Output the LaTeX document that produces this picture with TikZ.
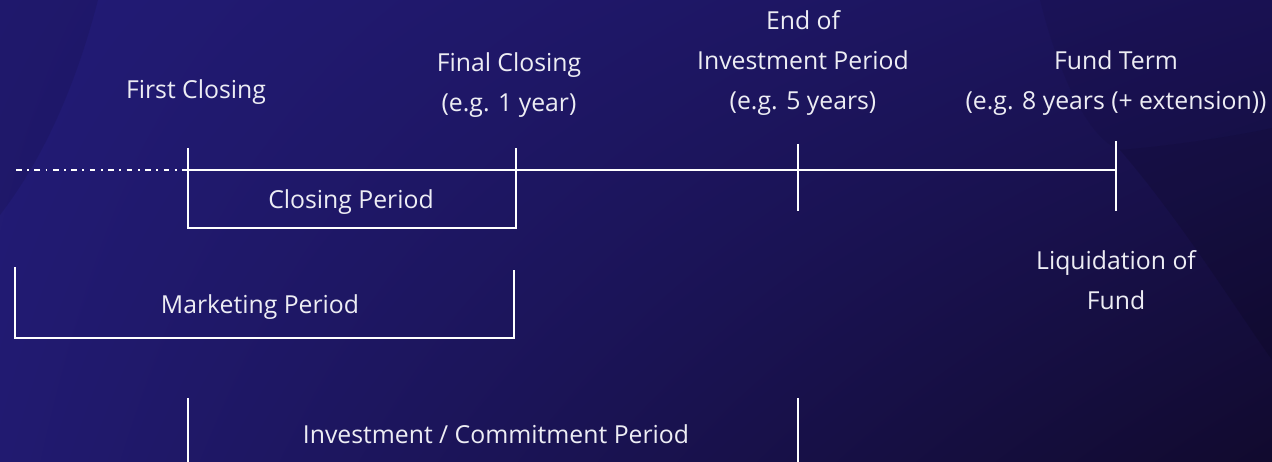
\documentclass[tikz,border=0pt]{standalone}
\usepackage{fontspec}
\setmainfont{Open Sans}
\usetikzlibrary{positioning,shadings}
\definecolor{bgtl}{HTML}{221B76}
\definecolor{bgtr}{HTML}{1B1358}
\definecolor{bgbl}{HTML}{211A70}
\definecolor{bgbr}{HTML}{110A2E}
\tikzset{%
	lbl/.style={text=white!92!bgtl, font=\fontsize{14.1}{22.7}\selectfont, align=center, inner sep=0pt},
	tl/.style={draw=white, line width=1.1pt},
	pre/.style={draw=white, line width=1pt, dash pattern=on 3.2pt off 3.1pt on 1.1pt off 3.1pt}}

\begin{document}
\begin{tikzpicture}[x=0.02cm, y=-0.02cm]
		% background
		\shade[upper left=bgtl, upper right=bgtr, lower left=bgbl, lower right=bgbr] (0,0) rectangle (1272,462);
		\begin{scope}
			\clip (0,0) rectangle (1272,462);
			\fill[black, opacity=0.08] (0,0) -- (98,0) .. controls (80,70) and (50,150) .. (0,215) -- cycle;
			\fill[black, opacity=0.06] (1040,0) .. controls (1060,80) and (1090,140) .. (1120,150) .. controls (1180,145) and (1240,135) .. (1272,128) -- (1272,0) -- cycle;
			\fill[black, opacity=0.12] (1120,150) .. controls (1180,220) and (1230,300) .. (1272,360) -- (1272,128) .. controls (1240,135) and (1180,145) .. (1120,150) -- cycle;
		\end{scope}
		\useasboundingbox (0,0) rectangle (1272,462);

		% timeline points
		\coordinate (start) at (16,170);
		\coordinate (fc) at (188,170);
		\coordinate (fin) at (516,170);
		\coordinate (eip) at (798,170);
		\coordinate (ft) at (1116,170);

		\coordinate (fcTop) at (188,148);
		\coordinate (finTop) at (516,148);
		\coordinate (eipTop) at (798,144);
		\coordinate (eipBot) at (798,211);
		\coordinate (ftTop) at (1116,141);
		\coordinate (ftBot) at (1116,211);
		\coordinate (cpLine) at (0,228);

		\coordinate (mpLeft) at (15,267);
		\coordinate (mpRight) at (514,270);
		\coordinate (mpLine) at (0,338);

		\coordinate (ipLeft) at (188,398);
		\coordinate (ipRight) at (798,398);
		\coordinate (ipLine) at (0,462);

		% labels
		\node[lbl] (FC) at (196,92) {First Closing};
		\node[lbl] (FIN) at (509,85) {Final Closing\\(e.g. 1 year)};
		\node[lbl] (EIP) at (803,63) {End of\\Investment Period\\(e.g. 5 years)};
		\node[lbl] (FT) at (1116,83) {Fund Term\\(e.g. 8 years (+ extension))};
		\node[lbl] (LIQ) at (1116,280) {Liquidation of\\Fund};
		\node[lbl] (CP) at (351,202) {Closing Period};
		\node[lbl] (MP) at (260,307) {Marketing Period};
		\node[lbl] (IP) at (496,434) {Investment / Commitment Period};

		% timeline
		\draw[pre] (start) -- (fc);
		\draw[tl] (fc) -- (ft);
		\draw[tl] (eipTop) -- (eipBot);
		\draw[tl] (ftTop) -- (ftBot);

		% periods
		\draw[tl] (fcTop) -- (fcTop |- cpLine) -- (finTop |- cpLine) -- (finTop);
		\draw[tl] (mpLeft) -- (mpLeft |- mpLine) -- (mpRight |- mpLine) -- (mpRight);
		\draw[tl] (ipLeft) -- (ipLeft |- ipLine);
		\draw[tl] (ipRight) -- (ipRight |- ipLine);
	\end{tikzpicture}
\end{document}
